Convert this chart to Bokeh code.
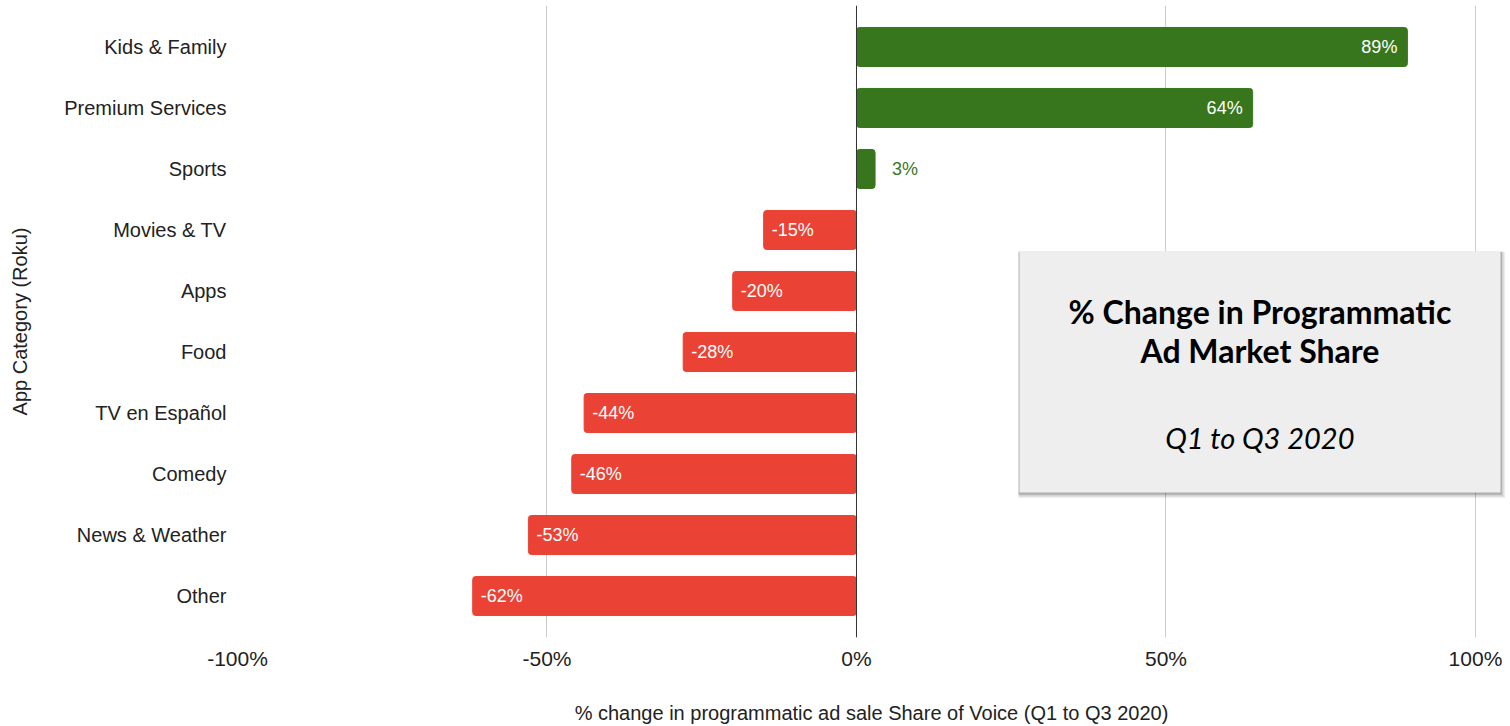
from bokeh.plotting import figure
from bokeh.models import (FactorRange, Range1d, FixedTicker, PrintfTickFormatter, Span,
                          BoxAnnotation, Label, ColumnDataSource)
from bokeh.embed import file_html
from bokeh.resources import INLINE
from bokeh.core.properties import value

categories = ["Kids & Family", "Premium Services", "Sports", "Movies & TV", "Apps",
              "Food", "TV en Español", "Comedy", "News & Weather", "Other"]
changes = [89, 64, 3, -15, -20, -28, -44, -46, -53, -62]
x_ticks = [-100, -50, 0, 50, 100]
x_title = "% change in programmatic ad sale Share of Voice (Q1 to Q3 2020)"
y_title = "App Category (Roku)"
box_title = ["% Change in Programmatic", "Ad Market Share"]
box_subtitle = "Q1 to Q3 2020"

GREEN = "#38761d"
RED = "#ea4335"

colors = [GREEN if v >= 0 else RED for v in changes]
labels = [f"{v}%" for v in changes]

src = ColumnDataSource(dict(cat=categories, val=changes, color=colors, label=labels))


def subset(cond):
    idx = [i for i, v in enumerate(changes) if cond(v)]
    return ColumnDataSource(dict(cat=[categories[i] for i in idx],
                                 val=[changes[i] for i in idx],
                                 label=[labels[i] for i in idx]))


pos_in = subset(lambda v: v >= 10)
pos_out = subset(lambda v: 0 <= v < 10)
neg_in = subset(lambda v: v < 0)

p = figure(width=1510, height=726, output_backend="svg", toolbar_location=None,
           y_range=FactorRange(factors=list(reversed(categories)), range_padding=0.18,
                               range_padding_units="absolute"),
           x_range=Range1d(-100, 104.85),
           min_border_left=237, min_border_right=5, min_border_top=5, min_border_bottom=88)
p.outline_line_color = None
p.background_fill_color = "white"
p.border_fill_color = "white"

p.hbar(y="cat", left=0, right="val", height=0.64, color="color", source=src,
       border_radius=3)

zero = Span(location=0, dimension="height", line_color="#333333", line_width=1)
p.add_layout(zero)

# data labels
lab_font = value("Liberation Sans")
p.text(x="val", y="cat", text="label", source=pos_in, text_align="right",
       text_baseline="middle", x_offset=-10, text_color="white",
       text_font=lab_font, text_font_size="18px")
p.text(x="val", y="cat", text="label", source=pos_out, text_align="left",
       text_baseline="middle", x_offset=17, text_color=GREEN,
       text_font=lab_font, text_font_size="18px")
p.text(x="val", y="cat", text="label", source=neg_in, text_align="left",
       text_baseline="middle", x_offset=8, text_color="white",
       text_font=lab_font, text_font_size="18px")

# axes
p.xaxis.ticker = FixedTicker(ticks=x_ticks)
p.xaxis.formatter = PrintfTickFormatter(format="%d%%")
p.xaxis.axis_line_color = None
p.xaxis.major_tick_line_color = None
p.xaxis.minor_tick_line_color = None
p.xaxis.major_label_standoff = 3
p.xaxis.major_label_text_font = "Liberation Sans"
p.xaxis.major_label_text_font_size = "21px"
p.xaxis.major_label_text_color = "#222222"
p.xaxis.axis_label = x_title
p.xaxis.axis_label_text_font = "Liberation Sans"
p.xaxis.axis_label_text_font_size = "20px"
p.xaxis.axis_label_text_font_style = "normal"
p.xaxis.axis_label_text_color = "#222222"
p.xaxis.axis_label_standoff = 29

p.yaxis.axis_line_color = None
p.yaxis.major_tick_line_color = None
p.yaxis.minor_tick_line_color = None
p.yaxis.major_label_standoff = 5
p.yaxis.major_label_text_font = "Liberation Sans"
p.yaxis.major_label_text_font_size = "20px"
p.yaxis.major_label_text_color = "#222222"
p.yaxis.axis_label = y_title
p.yaxis.axis_label_text_font = "Liberation Sans"
p.yaxis.axis_label_text_font_size = "20px"
p.yaxis.axis_label_text_font_style = "normal"
p.yaxis.axis_label_text_color = "#222222"
p.yaxis.axis_label_standoff = 30

p.xgrid.grid_line_color = "#cccccc"
p.xgrid.ticker = FixedTicker(ticks=x_ticks)
p.ygrid.grid_line_color = None

# annotation box with soft shadow (y in synthetic category units)
bx_l, bx_r, bx_t, bx_b = 26.33, 104.04, 6.152, 2.195
for dx, dy, a in [(0.75, 0.09, 0.07), (0.5, 0.065, 0.11), (0.25, 0.035, 0.17)]:
    p.add_layout(BoxAnnotation(left=bx_l - 0.15, right=bx_r + dx, top=bx_t - 0.01,
                               bottom=bx_b - dy, fill_color="black", fill_alpha=a,
                               line_color=None, level="overlay"))
p.add_layout(BoxAnnotation(left=bx_l, right=bx_r, top=bx_t, bottom=bx_b,
                           fill_color="#eeeeee", fill_alpha=1, line_color=None,
                           level="overlay"))

cx = 65.18
for txt, yy in zip(box_title, [5.17, 4.531]):
    p.add_layout(Label(x=cx, y=yy, text=txt, text_align="center", text_baseline="middle",
                       text_font="Lato", text_font_style="bold", text_font_size="32px",
                       text_color="black", level="overlay"))
p.add_layout(Label(x=cx, y=3.106, text=box_subtitle, text_align="center",
                   text_baseline="middle", text_font="Lato", text_font_style="italic",
                   text_font_size="29px", text_color="black", level="overlay"))

open("out.html", "w").write(file_html(p, INLINE))
